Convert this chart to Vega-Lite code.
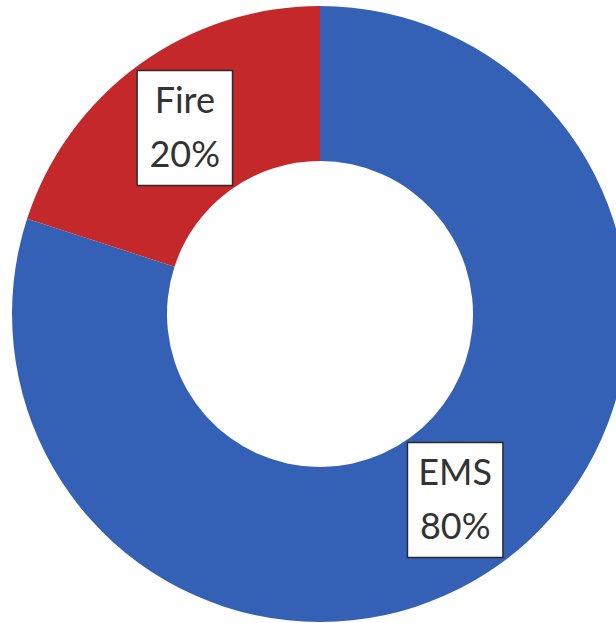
{
  "$schema": "https://vega.github.io/schema/vega-lite/v6.json",
  "width": 628,
  "height": 628,
  "autosize": "none",
  "padding": {"left": 6, "top": 0, "right": 0, "bottom": 0},
  "background": "white",
  "config": {"view": {"stroke": null}},
  "data": {
    "values": [
      {"category": "EMS", "value": 80},
      {"category": "Fire", "value": 20}
    ]
  },
  "layer": [
    {
      "mark": {"type": "arc", "outerRadius": 308, "innerRadius": 153, "stroke": null},
      "encoding": {
        "theta": {"field": "value", "type": "quantitative", "stack": true},
        "order": {"field": "category", "sort": "ascending"},
        "color": {
          "field": "category",
          "type": "nominal",
          "scale": {"domain": ["EMS", "Fire"], "range": ["#3461b5", "#c4282b"]},
          "legend": null
        }
      }
    },
    {
      "transform": [
        {"joinaggregate": [{"op": "sum", "field": "value", "as": "total"}]},
        {"window": [{"op": "sum", "field": "value", "as": "cum"}], "sort": [{"field": "category"}], "frame": [null, 0]},
        {"calculate": "(datum.cum - datum.value / 2) / datum.total * 2 * PI", "as": "mid"},
        {"calculate": "0.7325 * sin(datum.mid)", "as": "lx"},
        {"calculate": "0.7325 * cos(datum.mid)", "as": "ly"},
        {"calculate": "datum.category + '\\n' + datum.value + '%'", "as": "label"}
      ],
      "layer": [
        {
          "mark": {
            "type": "point",
            "shape": "M-0.83,-1H0.83V1H-0.83Z",
            "size": 13225,
            "filled": true,
            "fill": "white",
            "stroke": "#2a2a2a",
            "strokeWidth": 1.5,
            "opacity": 1
          },
          "encoding": {
            "x": {"field": "lx", "type": "quantitative", "scale": {"domain": [-1, 1], "nice": false, "zero": false}, "axis": null},
            "y": {"field": "ly", "type": "quantitative", "scale": {"domain": [-1, 1], "nice": false, "zero": false}, "axis": null}
          }
        },
        {
          "mark": {
            "type": "text",
            "font": "Lato",
            "fontSize": 36,
            "lineHeight": 54,
            "lineBreak": "\n",
            "align": "center",
            "baseline": "middle",
            "dy": -26,
            "color": "#333333"
          },
          "encoding": {
            "x": {"field": "lx", "type": "quantitative"},
            "y": {"field": "ly", "type": "quantitative"},
            "text": {"field": "label"}
          }
        }
      ]
    }
  ]
}
